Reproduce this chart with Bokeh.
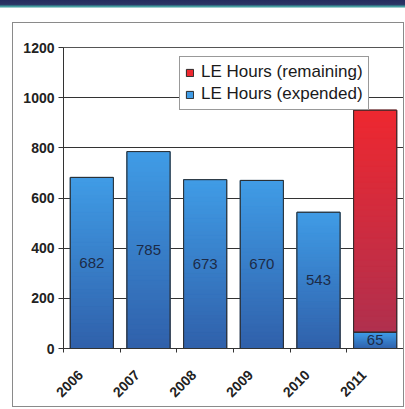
import numpy as np
from bokeh.plotting import figure
from bokeh.layouts import column
from bokeh.models import (ColumnDataSource, FixedTicker, Legend, LegendItem,
                          Range1d, LabelSet, Div)
from bokeh.core.properties import value
from bokeh.embed import file_html
from bokeh.resources import INLINE

# ---- data ----
years = ["2006", "2007", "2008", "2009", "2010", "2011"]
expended = [682, 785, 673, 670, 543, 65]
remaining = [0, 0, 0, 0, 0, 885]
y_ticks = [0, 200, 400, 600, 800, 1000, 1200]

# ---- styles ----
BLUE_TOP = np.array([64, 156, 230])
BLUE_BOT = np.array([48, 96, 170])
RED_TOP = np.array([238, 40, 48])
RED_BOT = np.array([176, 48, 78])
BAR_W = 0.76
N_STRIPS = 40
LABEL_SHIFT = 0.2  # rotated year labels sit left of the bar centre

def hexc(c):
    c = np.clip(np.round(c), 0, 255).astype(int)
    return "#%02x%02x%02x" % tuple(c)

p = figure(width=392, height=385, x_range=Range1d(0, len(years)),
           y_range=Range1d(0, 1200), output_backend="svg",
           toolbar_location=None, min_border_left=50, min_border_right=2,
           min_border_top=24, min_border_bottom=60)
p.margin = (14, 0, 0, 12)
p.styles = {"border": "1.5px solid #8a8a8a", "box-sizing": "border-box"}
p.background_fill_color = "white"
p.border_fill_color = "white"
p.outline_line_color = "#555555"
p.outline_line_width = 1

xc = np.arange(len(years)) + 0.5
rem_idx = [i for i, r in enumerate(remaining) if r > 0]
tot = [e + r for e, r in zip(expended, remaining)]

# solid base bars (also used for the legend swatches)
r_blue = p.vbar(x=xc, width=BAR_W, top=expended, bottom=0,
                fill_color=hexc(BLUE_TOP), line_color="#2a2a2a", line_width=1)
r_red = p.vbar(x=[xc[i] for i in rem_idx], width=BAR_W,
               top=[tot[i] for i in rem_idx], bottom=[expended[i] for i in rem_idx],
               fill_color=hexc(RED_TOP), line_color="#2a2a2a", line_width=1)

# gradient strips built from the data values
L, R, B, T, C = [], [], [], [], []
for i, (e, r) in enumerate(zip(expended, remaining)):
    segs = [(0, e, BLUE_BOT, BLUE_TOP)]
    if r > 0:
        segs.append((e, e + r, RED_BOT, RED_TOP))
    for lo, hi, cb, ct in segs:
        edges = np.linspace(lo, hi, N_STRIPS + 1)
        for j in range(N_STRIPS):
            f = (j + 0.5) / N_STRIPS
            L.append(xc[i] - BAR_W / 2)
            R.append(xc[i] + BAR_W / 2)
            B.append(edges[j])
            T.append(edges[j + 1])
            C.append(hexc(cb + (ct - cb) * f))
strips = ColumnDataSource(dict(left=L, right=R, bottom=B, top=T, color=C))
p.quad(left="left", right="right", bottom="bottom", top="top", fill_color="color",
       line_color="color", line_width=1, source=strips)

# outlines on top
p.vbar(x=xc, width=BAR_W, top=expended, bottom=0, fill_alpha=0,
       line_color="#2a2a2a", line_width=1)
p.vbar(x=[xc[i] for i in rem_idx], width=BAR_W, top=[tot[i] for i in rem_idx],
       bottom=[expended[i] for i in rem_idx], fill_alpha=0,
       line_color="#2a2a2a", line_width=1)

# value labels
lab = ColumnDataSource(dict(x=xc, y=[e / 2 for e in expended],
                            t=[str(e) for e in expended]))
p.add_layout(LabelSet(x="x", y="y", text="t", source=lab, text_align="center",
                      text_baseline="middle", text_font=value("Liberation Sans"),
                      text_font_size="15px", text_color="#1c2b48"))

# axes
p.xgrid.visible = False
p.ygrid.ticker = FixedTicker(ticks=y_ticks)
p.ygrid.grid_line_color = "#333333"
p.ygrid.grid_line_width = 1

p.yaxis.ticker = FixedTicker(ticks=y_ticks)
p.yaxis.major_tick_out = 5
p.yaxis.major_tick_in = 0
p.yaxis.minor_tick_out = 0
p.yaxis.axis_line_color = "#333333"
p.yaxis.major_tick_line_color = "#333333"
p.yaxis.major_label_text_font = "Liberation Sans"
p.yaxis.major_label_text_font_size = "14px"
p.yaxis.major_label_text_font_style = "bold"
p.yaxis.major_label_text_color = "#222222"
p.yaxis.major_label_standoff = 4

lab_x = [float(x - LABEL_SHIFT) for x in xc]
p.xaxis.ticker = FixedTicker(ticks=lab_x, minor_ticks=list(np.arange(len(years) + 1)))
p.xaxis.major_label_overrides = {x: y for x, y in zip(lab_x, years)}
p.xaxis.major_tick_out = 0
p.xaxis.major_tick_in = 0
p.xaxis.minor_tick_out = 4
p.xaxis.minor_tick_in = 0
p.xaxis.axis_line_color = "#333333"
p.xaxis.minor_tick_line_color = "#333333"
p.xaxis.major_label_orientation = np.pi / 4
p.xaxis.major_label_text_font = "Liberation Sans"
p.xaxis.major_label_text_font_size = "14px"
p.xaxis.major_label_text_font_style = "bold"
p.xaxis.major_label_text_color = "#222222"
p.xaxis.major_label_standoff = 20

# legend
legend = Legend(items=[LegendItem(label="LE Hours (remaining)", renderers=[r_red]),
                       LegendItem(label="LE Hours (expended)", renderers=[r_blue])],
                location=(116, 238), border_line_color="#333333",
                border_line_width=1, background_fill_color="white",
                background_fill_alpha=1, label_text_font="Liberation Sans",
                label_text_font_size="17px", label_text_color="#1a1a1a",
                glyph_width=9, glyph_height=9, spacing=2, padding=5, margin=0,
                label_standoff=7, label_height=20)
p.add_layout(legend, "center")

band = Div(text="", width=405, height=8, margin=(0, 0, 0, 0),
           styles={"background": "linear-gradient(to bottom, #252d5e 0%, #2b3565 55%, #3c9a9c 80%, #cfe3e3 100%)"})

layout = column(band, p, spacing=0, margin=(0, 0, 0, 0))
open("out.html", "w").write(file_html(layout, INLINE))
